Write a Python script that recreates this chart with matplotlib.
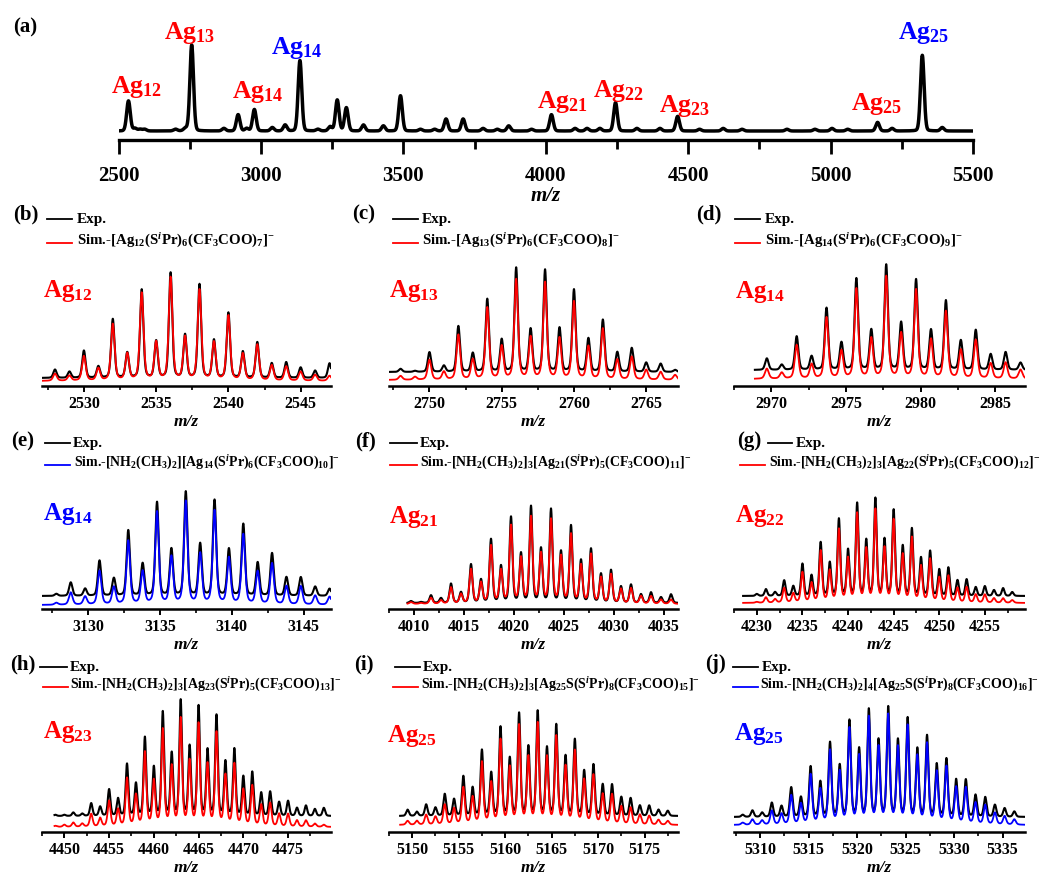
import numpy as np
import matplotlib
matplotlib.use("Agg")
import matplotlib.pyplot as plt
from matplotlib.lines import Line2D

plt.rcParams['font.family'] = ['Liberation Serif', 'DejaVu Serif']
plt.rcParams['font.weight'] = 'bold'
plt.rcParams['mathtext.fontset'] = 'custom'
plt.rcParams['mathtext.rm'] = 'Liberation Serif:bold'
plt.rcParams['mathtext.bf'] = 'Liberation Serif:bold'
plt.rcParams['mathtext.it'] = 'Liberation Serif:italic:bold'

W, H = 1042, 877
RED = '#ff0000'
BLUE = '#0000ff'

# ---- overview spectrum: peak centres (m/z) and relative heights ----
survey_mz = [2535, 2558, 2576, 2592, 2700, 2735, 2757, 2870, 2920, 2950, 2977,
             3040, 3085, 3137, 3200, 3243, 3268, 3300, 3360, 3430, 3490, 3560,
             3610, 3650, 3710, 3780, 3830, 3870, 3950, 4020, 4103, 4145, 4190,
             4245, 4320, 4401, 4463, 4540, 4623, 4689, 4847, 4945, 5005, 5060,
             5165, 5216, 5322, 5392]
survey_int = [35, 3, 2, 2, 2, 3, 100, 3, 19, 3, 25,
              4, 7, 82, 2, 5, 36, 27, 7, 6, 41, 2,
              2, 14, 14, 3, 2, 6, 2, 19, 3, 3, 3,
              33, 3, 3, 17, 2, 3, 2, 2, 2, 3, 2,
              10, 3, 88, 4]
survey_tags = ['Ag$_{12}$', 'Ag$_{13}$', 'Ag$_{14}$', 'Ag$_{14}$', 'Ag$_{21}$',
               'Ag$_{22}$', 'Ag$_{23}$', 'Ag$_{25}$', 'Ag$_{25}$']
survey_tag_mz = [2563, 2750, 2990, 3127, 4059, 4257, 4489, 5163, 5325]
survey_tag_y = [47, 101, 42, 86, 32, 43, 28, 30, 101]
survey_tag_col = [RED, RED, RED, BLUE, RED, RED, RED, RED, BLUE]

# ---- isotope patterns: first peak m/z, experimental and simulated heights ----
b_mz0 = 2528
b_exp = [8, 6, 26, 11, 56, 24, 84, 35, 100, 41, 89, 36, 62, 25, 34, 14, 15, 10, 7, 14]
b_sim = [7, 5, 24, 12, 55, 26, 85, 37, 100, 42, 88, 37, 63, 26, 35, 15, 14, 9, 6, 5]

c_mz0 = 2748
c_exp = [3, 1, 19, 6, 44, 18, 70, 31, 100, 41, 98, 42, 79, 32, 50, 19, 23, 9, 8, 2]
c_sim = [4, 3, 20, 8, 45, 20, 72, 33, 100, 42, 97, 41, 78, 33, 51, 20, 23, 10, 8, 5]

d_mz0 = 2969.7
d_exp = [11, 5, 32, 13, 59, 26, 87, 38, 100, 45, 86, 38, 66, 28, 38, 15, 17, 7]
d_sim = [10, 6, 33, 14, 60, 27, 88, 39, 100, 44, 87, 38, 66, 28, 38, 15, 16, 9]

e_mz0 = 3127.8
e_exp = [2, 13, 7, 34, 17, 63, 31, 90, 45, 100, 50, 92, 45, 69, 32, 41, 18, 18, 9, 7]
e_sim = [2, 12, 8, 33, 17, 62, 32, 90, 46, 100, 49, 91, 45, 68, 32, 40, 18, 18, 9, 8]

f_mz0 = 4009.7
f_exp = [2, 1, 8, 5, 20, 11, 40, 24, 66, 38, 89, 51, 100, 56, 97, 53, 80, 44, 56, 30,
         34, 17, 19, 9, 11, 6, 9]
f_sim = [2, 1, 7, 4, 19, 11, 40, 24, 67, 38, 90, 52, 100, 57, 97, 54, 80, 44, 57, 30,
         34, 17, 18, 9, 9, 5, 5]

g_mz0 = 4230
g_exp = [2, 7, 4, 16, 10, 33, 21, 55, 34, 79, 47, 95, 57, 100, 58, 88, 51, 69, 39, 46,
         27, 29, 16, 17, 9, 10, 6, 8, 4]
g_sim = [1, 6, 4, 16, 10, 33, 21, 56, 34, 79, 47, 96, 57, 100, 58, 89, 51, 70, 39, 47,
         27, 29, 16, 17, 9, 9, 5, 5, 3]

h_mz0 = 4449
h_exp = [1, 1, 3, 2, 11, 8, 23, 15, 45, 28, 68, 42, 90, 54, 100, 60, 95, 57, 87, 47,
         58, 34, 38, 20, 21, 12, 13, 7, 9, 6, 7]
h_sim = [1, 2, 4, 3, 12, 8, 24, 16, 45, 29, 69, 42, 90, 55, 100, 60, 95, 57, 87, 47,
         58, 34, 38, 20, 22, 12, 12, 6, 6, 3, 2]

i_mz0 = 5149.5
i_exp = [6, 4, 11, 8, 21, 16, 38, 27, 63, 41, 85, 55, 98, 66, 100, 65, 87, 57, 73, 43,
         49, 30, 30, 18, 17, 10, 10, 6, 5]
i_sim = [4, 4, 10, 8, 20, 16, 37, 27, 62, 41, 84, 56, 98, 66, 100, 66, 87, 57, 73, 44,
         49, 30, 30, 18, 17, 10, 9, 5, 4]

j_mz0 = 5308.2
j_exp = [2, 6, 4, 13, 10, 27, 18, 46, 32, 68, 47, 88, 62, 98, 70, 100, 70, 90, 62, 74,
         48, 53, 34, 34, 20, 18, 11, 8, 5]
j_sim = [2, 5, 4, 13, 10, 27, 19, 46, 32, 68, 48, 88, 62, 98, 70, 100, 70, 90, 62, 74,
         48, 53, 34, 34, 20, 18, 11, 8, 5]

formulas = {
    'b': 'Sim.-[Ag$_{12}$(S$^{i}$Pr)$_{6}$(CF$_{3}$COO)$_{7}$]$^{-}$',
    'c': 'Sim.-[Ag$_{13}$(S$^{i}$Pr)$_{6}$(CF$_{3}$COO)$_{8}$]$^{-}$',
    'd': 'Sim.-[Ag$_{14}$(S$^{i}$Pr)$_{6}$(CF$_{3}$COO)$_{9}$]$^{-}$',
    'e': 'Sim.-[NH$_{2}$(CH$_{3}$)$_{2}$][Ag$_{14}$(S$^{i}$Pr)$_{6}$(CF$_{3}$COO)$_{10}$]$^{-}$',
    'f': 'Sim.-[NH$_{2}$(CH$_{3}$)$_{2}$]$_{3}$[Ag$_{21}$(S$^{i}$Pr)$_{5}$(CF$_{3}$COO)$_{11}$]$^{-}$',
    'g': 'Sim.-[NH$_{2}$(CH$_{3}$)$_{2}$]$_{3}$[Ag$_{22}$(S$^{i}$Pr)$_{5}$(CF$_{3}$COO)$_{12}$]$^{-}$',
    'h': 'Sim.-[NH$_{2}$(CH$_{3}$)$_{2}$]$_{3}$[Ag$_{23}$(S$^{i}$Pr)$_{5}$(CF$_{3}$COO)$_{13}$]$^{-}$',
    'i': 'Sim.-[NH$_{2}$(CH$_{3}$)$_{2}$]$_{3}$[Ag$_{25}$S(S$^{i}$Pr)$_{8}$(CF$_{3}$COO)$_{15}$]$^{-}$',
    'j': 'Sim.-[NH$_{2}$(CH$_{3}$)$_{2}$]$_{4}$[Ag$_{25}$S(S$^{i}$Pr)$_{8}$(CF$_{3}$COO)$_{16}$]$^{-}$',
}


def profile(x, centers, heights, fwhm, eta):
    """Sum of pseudo-Voigt peaks."""
    y = np.zeros_like(x)
    for c, h in zip(centers, heights):
        d = (x - c) / (fwhm / 2)
        y += h * (eta / (1 + d ** 2) + (1 - eta) * np.exp(-np.log(2) * d ** 2))
    return y


def fx(px):
    return px / W


def fy(py):
    return 1 - py / H


def rect(left, right, bottom, top):
    return [fx(left), fy(bottom), fx(right) - fx(left), (bottom - top) / H]


fig = plt.figure(figsize=(W / 100, H / 100), dpi=100)

# ---------------- (a) overview ----------------
ax = fig.add_axes(rect(118.5, 973, 140, 40))
xs = np.linspace(2500, 5500, 6000)
ys = 9 + 0.86 * profile(xs, survey_mz, survey_int, 15, 0.1)
ax.plot(xs, ys, color='black', lw=2.5, solid_joinstyle='round')
ax.set_xlim(2500, 5500)
ax.set_ylim(0, 100)
for s in ['left', 'right', 'top']:
    ax.spines[s].set_visible(False)
ax.spines['bottom'].set_linewidth(2.4)
ax.set_yticks([])
ax.set_xticks(np.arange(2500, 5501, 500))
ax.set_xticks(np.arange(2750, 5500, 500), minor=True)
ax.tick_params(axis='x', which='major', direction='out', length=10, width=2, labelsize=15, pad=9)
ax.tick_params(axis='x', which='minor', direction='out', length=6.5, width=2)
for t in ax.get_xticklabels():
    t.set_fontweight('bold')
ax.set_xlabel('m/z', fontsize=15, fontstyle='italic', fontweight='bold', labelpad=0)
for tag, mz, yy, col in zip(survey_tags, survey_tag_mz, survey_tag_y, survey_tag_col):
    ax.text(mz, yy, tag, color=col, fontsize=18.5, ha='center', va='baseline', clip_on=False)
fig.text(fx(25), fy(27), '(a)', fontsize=15, ha='center', va='center')

# ---------------- (b)-(j) isotope patterns ----------------
col_x = [(42, 331), (389, 678), (734, 1025)]
row_y = [386, 609, 832]
sim_size = [10.7, 10, 10]

panels = [
    dict(key='b', mz0=b_mz0, exp=b_exp, sim=b_sim, xlim=(2527.1, 2547.1), major=2530,
         pos=(0, 0), col=RED, tag='Ag$_{12}$', off=(8, 5), top=(113, 108), span=20,
         tagxy=(43, 297), letter=(26, 214), lexp=(47, 72, 219, 77), lsim=(47, 72, 243, 77)),
    dict(key='c', mz0=c_mz0, exp=c_exp, sim=c_sim, xlim=(2747.2, 2767.2), major=2750,
         pos=(1, 0), col=RED, tag='Ag$_{13}$', off=(14, 6), top=(118, 106), span=20,
         tagxy=(389, 297), letter=(364, 214), lexp=(393, 418, 219, 422), lsim=(393, 418, 243, 422)),
    dict(key='d', mz0=d_mz0, exp=d_exp, sim=d_sim, xlim=(2968.9, 2987.0), major=2970,
         pos=(2, 0), col=RED, tag='Ag$_{14}$', off=(16, 7), top=(121, 109), span=20,
         tagxy=(735, 298), letter=(709, 214), lexp=(735, 760, 219, 765), lsim=(735, 760, 243, 765)),
    dict(key='e', mz0=e_mz0, exp=e_exp, sim=e_sim, xlim=(3126.8, 3146.9), major=3130,
         pos=(0, 1), col=BLUE, tag='Ag$_{14}$', off=(13, 4), top=(117, 107), span=20,
         tagxy=(43, 520), letter=(23, 441), lexp=(45, 70, 443, 73), lsim=(45, 70, 465, 74)),
    dict(key='f', mz0=f_mz0, exp=f_exp, sim=f_sim, xlim=(4009.35, 4036.4), major=4010,
         pos=(1, 1), col=RED, tag='Ag$_{21}$', off=(6, 5), top=(102, 91), span=30,
         tagxy=(389, 523), letter=(365, 441), lexp=(390, 417, 443, 420), lsim=(390, 417, 465, 420)),
    dict(key='g', mz0=g_mz0, exp=g_exp, sim=g_sim, xlim=(4228.5, 4259.4), major=4230,
         pos=(2, 1), col=RED, tag='Ag$_{22}$', off=(13, 6), top=(110, 98), span=30,
         tagxy=(735, 522), letter=(749, 441), lexp=(768, 792, 443, 796), lsim=(740, 765, 465, 769)),
    dict(key='h', mz0=h_mz0, exp=h_exp, sim=h_sim, xlim=(4448.9, 4479.8), major=4450,
         pos=(0, 2), col=RED, tag='Ag$_{23}$', off=(16, 5), top=(131, 112), span=30,
         tagxy=(43, 738), letter=(23, 664), lexp=(40, 67, 667, 70), lsim=(43, 68, 687, 70)),
    dict(key='i', mz0=i_mz0, exp=i_exp, sim=i_sim, xlim=(5148.7, 5178.6), major=5150,
         pos=(1, 2), col=RED, tag='Ag$_{25}$', off=(16, 7), top=(120, 107), span=30,
         tagxy=(387, 742), letter=(364, 664), lexp=(395, 420, 667, 423), lsim=(393, 418, 687, 421)),
    dict(key='j', mz0=j_mz0, exp=j_exp, sim=j_sim, xlim=(5307.3, 5337.3), major=5310,
         pos=(2, 2), col=BLUE, tag='Ag$_{25}$', off=(15, 7), top=(124, 115), span=30,
         tagxy=(734, 740), letter=(716, 664), lexp=(733, 758, 667, 762), lsim=(733, 758, 687, 760)),
]

AX_H = 140
for p in panels:
    ci, ri = p['pos']
    x0, x1 = col_x[ci]
    yb = row_y[ri]
    ax = fig.add_axes(rect(x0, x1, yb, yb - AX_H))
    centers_e = p['mz0'] + np.arange(len(p['exp']))
    centers_s = p['mz0'] + np.arange(len(p['sim']))
    xs = np.linspace(p['xlim'][0], p['xlim'][1], 5000)
    w = 0.27 if p['span'] == 20 else 0.34
    oe, os_ = p['off']
    te, ts = p['top']
    ye = oe + (te - oe) / 100 * profile(xs, centers_e, p['exp'], w, 0.3)
    ysim = os_ + (ts - os_) / 100 * profile(xs, centers_s, p['sim'], w * 1.1, 0.45)
    ax.plot(xs, ye, color='black', lw=1.5)
    ax.plot(xs, ysim, color=p['col'], lw=1.3)
    ax.set_xlim(*p['xlim'])
    ax.set_ylim(0, AX_H)
    for s in ['left', 'right', 'top']:
        ax.spines[s].set_visible(False)
    ax.spines['bottom'].set_linewidth(1.8)
    ax.set_yticks([])
    ax.set_xticks(np.arange(p['major'], p['xlim'][1], 5))
    ax.set_xticks(np.arange(p['major'] - 2.5, p['xlim'][1], 5), minor=True)
    ax.tick_params(axis='x', which='major', direction='out', length=4.5, width=1.4, labelsize=11.5, pad=3)
    ax.tick_params(axis='x', which='minor', direction='out', length=3, width=1.2)
    for t in ax.get_xticklabels():
        t.set_fontweight('bold')
    ax.set_xlabel('m/z', fontsize=12.5, fontstyle='italic', fontweight='bold', labelpad=1)

    # tag for the cluster
    tx, ty = p['tagxy']
    fig.text(fx(tx), fy(ty), p['tag'], color=p['col'], fontsize=18, ha='left', va='baseline')

    # panel letter and hand-drawn legend
    lx, ly = p['letter']
    fig.text(fx(lx), fy(ly), '(' + p['key'] + ')', fontsize=15, ha='center', va='center')
    a0, a1, ay, atx = p['lexp']
    fig.add_artist(Line2D([fx(a0), fx(a1)], [fy(ay), fy(ay)], color='black', lw=1.3))
    fig.text(fx(atx), fy(ay + 4), 'Exp.', fontsize=11, ha='left', va='baseline')
    s0, s1, sy, stx = p['lsim']
    fig.add_artist(Line2D([fx(s0), fx(s1)], [fy(sy), fy(sy)], color=p['col'], lw=1.3))
    fig.text(fx(stx), fy(sy + 2), formulas[p['key']], fontsize=sim_size[ri],
             ha='left', va='baseline')

fig.savefig('out.png', dpi=100, facecolor='white')
